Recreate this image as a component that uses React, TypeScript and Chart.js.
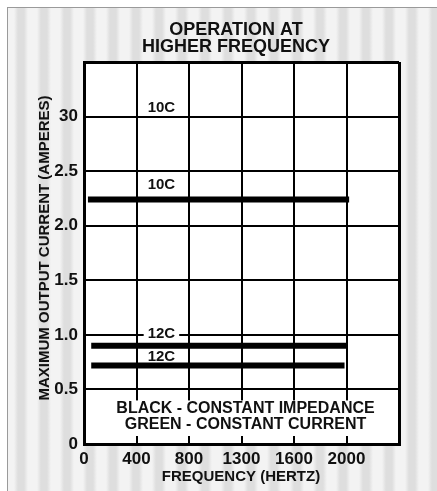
import React, { useEffect, useRef } from "react";
import { Chart, registerables } from "chart.js";

Chart.register(...registerables);

// ---- data ----
const freqCategories = [0, 400, 800, 1300, 1600, 2000, 2400];
const xTickLabels = ["0", "400", "800", "1300", "1600", "2000", ""];
const yTickValues = [0, 0.5, 1, 1.5, 2, 2.5, 3, 3.5];
const yTickLabels = ["0", "0.5", "1.0", "1.5", "2.0", "2.5", "30", ""];

const seriesNames = ["10C", "12C", "12C"];
const seriesAmps = [2.24, 0.9, 0.72];
const seriesStartHz = [30, 55, 55];
const seriesEndHz = [2020, 2000, 1985];

const labelTexts = ["10C", "10C", "12C", "12C"];
const labelHz = [590, 590, 590, 590];
const labelAmps = [3.08, 2.37, 1.005, 0.795];
const labelBoxed = [false, false, true, false];

const titleLines = ["OPERATION AT", "HIGHER FREQUENCY"];
const legendLines = ["BLACK - CONSTANT IMPEDANCE", "GREEN - CONSTANT CURRENT"];
const xTitle = "FREQUENCY (HERTZ)";
const yTitle = "MAXIMUM OUTPUT CURRENT (AMPERES)";

const FONT = "'Liberation Sans', Arial, Helvetica, sans-serif";

function freqToPos(f: number): number {
  for (let i = 0; i < freqCategories.length - 1; i++) {
    const a = freqCategories[i];
    const b = freqCategories[i + 1];
    if (f <= b || i === freqCategories.length - 2) {
      return i + (f - a) / (b - a);
    }
  }
  return 0;
}

export default function App() {
  const ref = useRef<HTMLCanvasElement | null>(null);

  useEffect(() => {
    document.body.style.margin = "0";
    const canvas = ref.current;
    if (!canvas) return;

    const overlay = {
      id: "overlay",
      beforeDraw(chart: any) {
        const { ctx, chartArea: a } = chart;
        ctx.save();
        ctx.fillStyle = "#ffffff";
        ctx.fillRect(a.left, a.top, a.right - a.left, a.bottom - a.top);
        ctx.restore();
      },
      afterDatasetsDraw(chart: any) {
        const { ctx, chartArea: a, scales } = chart;
        const xs = scales.x;
        const ys = scales.y;
        ctx.save();
        // legend box (white, covers grid)
        const ly0 = ys.getPixelForValue(0.5) + 11;
        const ly1 = ys.getPixelForValue(0) - 8;
        ctx.fillStyle = "#ffffff";
        ctx.fillRect(a.left + 2, ly0, a.right - a.left - 4, ly1 - ly0);
        ctx.fillStyle = "#111";
        ctx.font = `bold 16px ${FONT}`;
        ctx.textAlign = "center";
        ctx.textBaseline = "middle";
        const cx = (a.left + a.right) / 2 + 4;
        ctx.fillText(legendLines[0], cx, ly0 + 8);
        ctx.fillText(legendLines[1], cx, ly0 + 24);

        // series labels
        ctx.font = `bold 15px ${FONT}`;
        for (let i = 0; i < labelTexts.length; i++) {
          const px = xs.getPixelForValue(freqToPos(labelHz[i]));
          const py = ys.getPixelForValue(labelAmps[i]);
          if (labelBoxed[i]) {
            const w = ctx.measureText(labelTexts[i]).width + 8;
            ctx.fillStyle = "#ffffff";
            ctx.fillRect(px - w / 2, py - 6, w, 12);
          }
          ctx.fillStyle = "#111";
          ctx.fillText(labelTexts[i], px, py);
        }
        ctx.restore();
      },
      afterDraw(chart: any) {
        const { ctx, chartArea: a } = chart;
        ctx.save();
        ctx.fillStyle = "#111";
        ctx.textAlign = "center";
        ctx.textBaseline = "middle";
        ctx.font = `bold 18px ${FONT}`;
        ctx.fillText(titleLines[0], 236, 30);
        ctx.fillText(titleLines[1], 236, 47);
        ctx.font = `bold 15px ${FONT}`;
        ctx.fillText(xTitle, 241, 477);
        ctx.translate(45, (a.top + a.bottom) / 2 - 5);
        ctx.rotate(-Math.PI / 2);
        ctx.fillText(yTitle, 0, 0);
        ctx.restore();
      },
    };

    const datasets = seriesNames.map((name, i) => ({
      label: name,
      data: [
        { x: freqToPos(seriesStartHz[i]), y: seriesAmps[i] },
        { x: freqToPos(seriesEndHz[i]), y: seriesAmps[i] },
      ],
      borderColor: "#000",
      borderWidth: 6,
      borderCapStyle: "butt" as const,
      pointRadius: 0,
      fill: false,
    }));

    const chart = new Chart(canvas, {
      type: "line",
      data: { datasets },
      options: {
        animation: false,
        responsive: false,
        maintainAspectRatio: false,
        layout: { padding: { top: 62, right: 38, left: 0, bottom: 0 } },
        plugins: { legend: { display: false }, tooltip: { enabled: false }, title: { display: false } },
        scales: {
          x: {
            type: "linear",
            min: 0,
            max: 6,
            afterBuildTicks(scale: any) {
              scale.ticks = xTickLabels.map((_, i) => ({ value: i }));
            },
            afterFit(scale: any) {
              scale.height = 47;
            },
            ticks: {
              autoSkip: false,
              maxRotation: 0,
              padding: 5,
              color: "#111",
              font: { family: FONT, size: 17, weight: "bold" },
              callback: (v: any) => xTickLabels[Math.round(Number(v))] ?? "",
            },
            grid: {
              color: "#000",
              lineWidth: (c: any) => (c.index === 0 || c.index === 6 ? 3 : 2),
              drawTicks: false,
            },
            border: { display: true, color: "#000", width: 3 },
          },
          y: {
            type: "linear",
            min: 0,
            max: 3.5,
            afterBuildTicks(scale: any) {
              scale.ticks = yTickValues.map((v) => ({ value: v }));
            },
            afterFit(scale: any) {
              scale.width = 84;
            },
            ticks: {
              autoSkip: false,
              padding: 6,
              color: "#111",
              font: { family: FONT, size: 17, weight: "bold" },
              callback: (v: any) => {
                const idx = yTickValues.findIndex((t) => Math.abs(t - Number(v)) < 1e-6);
                return idx >= 0 ? yTickLabels[idx] : "";
              },
            },
            grid: {
              color: "#000",
              lineWidth: (c: any) => (c.index === 0 || c.index === 7 ? 3 : 2),
              drawTicks: false,
            },
            border: { display: true, color: "#000", width: 3 },
          },
        },
      },
      plugins: [overlay],
    });

    return () => chart.destroy();
  }, []);

  return (
    <div
      style={{
        position: "fixed",
        left: 0,
        top: 0,
        width: 437,
        height: 491,
        background: "#ffffff",
      }}
    >
      <div
        style={{
          position: "absolute",
          left: 7,
          top: 7,
          right: 0,
          bottom: 0,
          borderLeft: "1px solid #9a9a9a",
          borderTop: "1px solid #9a9a9a",
          background:
            "repeating-linear-gradient(90deg, #f3f3f3 0px, #f3f3f3 6px, #dedede 10px, #dedede 16px, #f3f3f3 20px, #f3f3f3 23px)",
        }}
      />
      <canvas ref={ref} width={437} height={491} style={{ position: "absolute", left: 0, top: 0 }} />
    </div>
  );
}
